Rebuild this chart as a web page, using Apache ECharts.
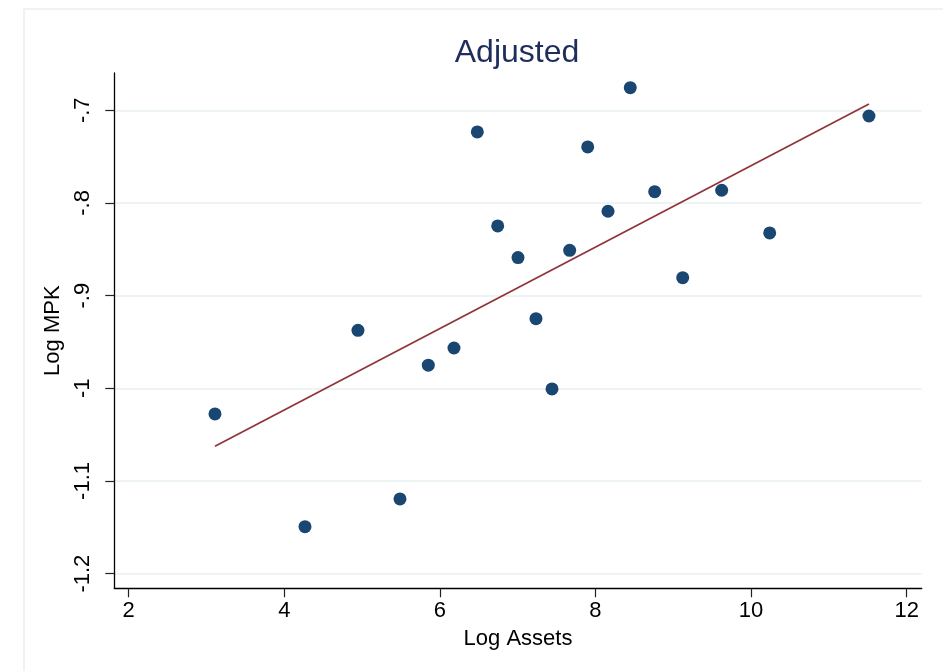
<!DOCTYPE html>
<html><head><meta charset="utf-8">
<script src="https://cdn.jsdelivr.net/npm/echarts@6/dist/echarts.min.js"></script>
<style>html,body{margin:0;padding:0;background:#fff}#chart{width:943px;height:671px}</style>
</head><body><div id="chart"></div>
<script>
const titleText = 'Adjusted';
const xName = 'Log Assets';
const yName = 'Log MPK';
const logAssets = [3.109, 4.266, 4.947, 5.487, 5.851, 6.181, 6.481, 6.743, 7.004, 7.235,
                   7.441, 7.668, 7.900, 8.161, 8.447, 8.761, 9.121, 9.622, 10.239, 11.515];
const logMPK = [-1.0277, -1.1493, -0.9374, -1.1194, -0.9751, -0.9565, -0.7234, -0.8248, -0.8590, -0.9249,
                -1.0007, -0.8511, -0.7396, -0.8090, -0.6756, -0.7878, -0.8806, -0.7863, -0.8324, -0.7062];
const fitX = [3.109, 11.515];
const fitY = [-1.0625, -0.6932];
const xTicks = [2, 4, 6, 8, 10, 12];
const xTickLabels = ['2', '4', '6', '8', '10', '12'];
const yTicks = [-1.2, -1.1, -1, -0.9, -0.8, -0.7];
const yTickLabels = ['-1.2', '-1.1', '-1', '-.9', '-.8', '-.7'];
const xRange = [1.815, 12.193];
const yRange = [-1.2158, -0.6598];

function labelFor(ticks, labels) {
  return function (v) {
    for (let i = 0; i < ticks.length; i++) {
      if (Math.abs(ticks[i] - v) < 1e-6) return labels[i];
    }
    return '';
  };
}

const FONT = '"Liberation Sans", Arial, Helvetica, sans-serif';
const chart = echarts.init(document.getElementById('chart'), null, {renderer: 'canvas'});
chart.setOption({
  animation: false,
  backgroundColor: '#ffffff',
  textStyle: {fontFamily: FONT},
  title: {
    text: titleText,
    left: 517,
    top: 37,
    textAlign: 'center',
    padding: 0,
    textStyle: {fontFamily: FONT, fontSize: 32, fontWeight: 'normal', color: '#1e2d5c'}
  },
  graphic: [{
    type: 'rect',
    z: -10,
    silent: true,
    shape: {x: 24, y: 9, width: 1000, height: 1000},
    style: {fill: 'none', stroke: '#e8eff1', lineWidth: 1.5}
  }],
  grid: {
    left: 114.3, top: 73, right: 21.3, bottom: 82.7,
    containLabel: false,
    outerBoundsMode: 'none'
  },
  xAxis: {
    type: 'value',
    min: xRange[0], max: xRange[1],
    name: xName,
    nameLocation: 'middle',
    nameGap: 40,
    nameTextStyle: {fontFamily: FONT, fontSize: 22, color: '#000'},
    axisLine: {show: true, onZero: false, lineStyle: {color: '#000', width: 1.3}},
    axisTick: {show: true, customValues: xTicks, length: 9, lineStyle: {color: '#222', width: 1.2}},
    axisLabel: {show: true, customValues: xTicks, margin: 12, fontFamily: FONT, fontSize: 22, color: '#000',
                formatter: labelFor(xTicks, xTickLabels)},
    splitLine: {show: false}
  },
  yAxis: {
    type: 'value',
    min: yRange[0], max: yRange[1],
    name: yName,
    nameLocation: 'middle',
    nameGap: 42,
    nameTextStyle: {fontFamily: FONT, fontSize: 22, color: '#000'},
    axisLine: {show: true, onZero: false, lineStyle: {color: '#000', width: 1.3}},
    axisTick: {show: true, customValues: yTicks, length: 9, lineStyle: {color: '#222', width: 1.2}},
    axisLabel: {show: true, customValues: yTicks, rotate: 90, margin: 20, fontFamily: FONT, fontSize: 22, color: '#000',
                formatter: labelFor(yTicks, yTickLabels)},
    splitLine: {show: true, lineStyle: {color: '#e8eff1', width: 1.6}}
  },
  series: [
    {
      type: 'scatter',
      data: logAssets.map((x, i) => [x, logMPK[i]]),
      symbol: 'circle',
      symbolSize: 13,
      itemStyle: {color: '#1a4771', opacity: 1},
      silent: true,
      z: 2
    },
    {
      type: 'line',
      data: fitX.map((x, i) => [x, fitY[i]]),
      showSymbol: false,
      symbol: 'none',
      lineStyle: {color: '#90353b', width: 1.8},
      silent: true,
      z: 3
    }
  ]
});
</script>
</body></html>
